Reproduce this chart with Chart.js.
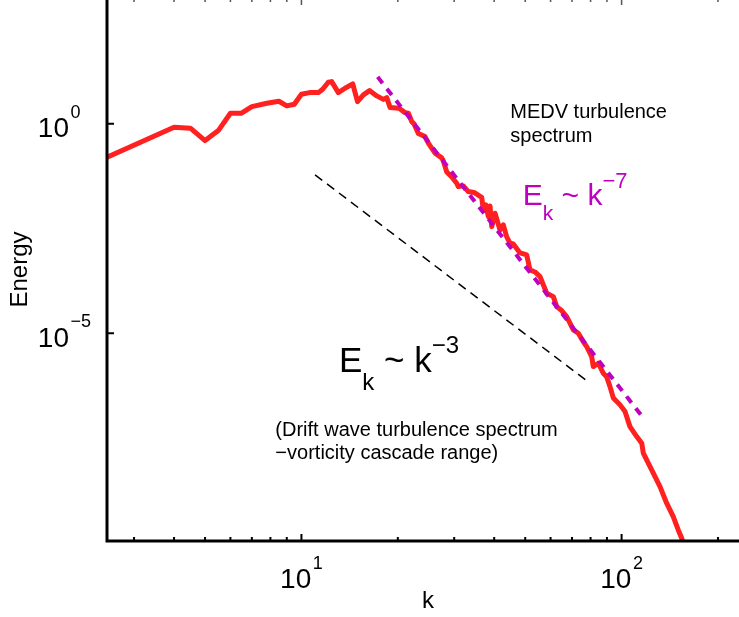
<!DOCTYPE html>
<html><head><meta charset="utf-8">
<script src="https://cdn.jsdelivr.net/npm/chart.js@4.4.1/dist/chart.umd.min.js"></script>
<style>
html,body{margin:0;padding:0;background:#fff;overflow:hidden;width:739px;height:617px;}
#wrap{position:absolute;left:0;top:-30px;width:780px;height:647px;}
</style></head><body>
<div id="wrap"><canvas id="c"></canvas></div>
<script>
// ---- data ----
const waveNumber = [2, 4, 4.5, 5, 5.5, 6, 6.5, 7, 7.8, 8.5, 9, 9.5, 10, 10.6, 11.3, 11.65, 12.13, 12.43, 13.04, 13.68,
  14.46, 14.97, 15.61, 16.32, 17.19, 18.03, 18.47, 18.91, 20.18, 21.07, 21.58, 22.11, 22.48, 23.18, 24.32, 24.91, 26.14, 27.43, 27.75, 28.44,
  29.48, 30.55, 30.9, 32.04, 33.2, 34.6, 36.57, 36.99, 37.71, 38.35, 38.82, 39.3, 40.24, 41.71, 42.71, 43.77, 44.83, 45.9, 48.16, 49.39,
  50.54, 51.75, 53.64, 55.62, 58.36, 61.2, 62.7, 64.67, 67.38, 70.67, 73.25, 75.93, 77.8, 80.65, 81.58, 84.56, 87.65, 89.84, 92.0, 94.2,
  98.9, 102.5, 106.2, 111.5, 115.6, 116.9, 122.7, 127.2, 131.8, 138.3, 145.0, 150.3, 154.1, 158.9];
const energy = [0.0764, 0.825, 0.781, 0.395, 0.684, 1.78, 1.78, 2.56, 3.08, 3.44, 2.66, 2.92, 5.06, 5.52, 5.52, 6.66, 9.78, 10.1, 5.52, 7.03,
  8.91, 3.37, 4.87, 6.17, 4.61, 3.80, 4.20, 2.45, 2.34, 1.84, 1.78, 1.12, 0.989, 0.587, 0.492, 0.343, 0.198, 0.153, 0.1295, 0.0707,
  0.0537, 0.0380, 0.0315, 0.0328, 0.0240, 0.0229, 0.0174, 0.00877, 0.01153, 0.00607, 0.01092, 0.0035, 0.00731, 0.00292, 0.00384, 0.00199, 0.00141, 0.00135, 8.25e-4, 7.81e-4,
  7.39e-4, 3.24e-4, 2.90e-4, 2.24e-4, 9.01e-5, 7.48e-5, 4.31e-5, 3.60e-5, 2.49e-5, 1.20e-5, 1.0e-5, 6.3e-6, 4.79e-6, 2.76e-6, 1.60e-6, 1.92e-6, 1.11e-6, 9.06e-7, 5.32e-7, 2.86e-7,
  1.95e-7, 1.35e-7, 5.90e-8, 3.41e-8, 2.37e-8, 1.37e-8, 6.55e-9, 3.78e-9, 2.18e-9, 8.77e-10, 4.20e-10, 2.02e-10, 1.28e-10, 6.0e-11];
const fit7K = [17.3, 115];
const fit7E = [13.1, 1.12e-7];
const fit3K = [11.03, 78.5];
const fit3E = [0.060, 7.0e-7];
const xMajorTicks = [10, 100];
const xMajorExponents = ['1', '2'];
const xMinorTicks = [3, 4, 5, 6, 7, 8, 9, 20, 30, 40, 50, 60, 70, 80, 90, 200];
const yMajorTicks = [1e-10, 1e-5, 1];
const yMajorExponents = ['\u221210', '\u22125', '0'];
const xTitle = 'k';
const yTitle = 'Energy';

const FONT = '"Liberation Sans", Arial, Helvetica, sans-serif';
const fnt = s => s + 'px ' + FONT;
function drawRich(ctx, x, y, parts) {
  let cx = x;
  for (const p of parts) {
    ctx.font = fnt(p.size);
    ctx.fillText(p.t, cx, y + (p.dy || 0));
    cx += ctx.measureText(p.t).width + (p.gap || 0);
  }
  return cx;
}
function richWidth(ctx, parts) {
  let w = 0;
  for (const p of parts) { ctx.font = fnt(p.size); w += ctx.measureText(p.t).width + (p.gap || 0); }
  return w;
}

const axesPlugin = {
  id: 'axesPlugin',
  afterDatasetsDraw(chart) {
    const { ctx, chartArea: a, scales: { x, y } } = chart;
    ctx.save();
    ctx.strokeStyle = '#000';
    ctx.fillStyle = '#000';
    ctx.textAlign = 'left';
    ctx.textBaseline = 'alphabetic';
    // ticks (inward) on bottom / left
    ctx.lineWidth = 2;
    ctx.beginPath();
    for (const v of xMajorTicks) {
      const px = x.getPixelForValue(v);
      ctx.moveTo(px, a.bottom); ctx.lineTo(px, a.bottom - 7);
    }
    for (const v of xMinorTicks) {
      const px = x.getPixelForValue(v);
      ctx.moveTo(px, a.bottom); ctx.lineTo(px, a.bottom - 4);
    }
    for (const v of yMajorTicks) {
      if (v < y.min || v > y.max) continue;
      const py = y.getPixelForValue(v);
      ctx.moveTo(a.left, py); ctx.lineTo(a.left + 7, py);
      ctx.moveTo(a.right, py); ctx.lineTo(a.right - 7, py);
    }
    ctx.stroke();
    // top ticks (mostly cropped in the reference)
    ctx.lineWidth = 1.5;
    ctx.strokeStyle = '#555';
    ctx.beginPath();
    for (const v of xMajorTicks) {
      const px = x.getPixelForValue(v);
      ctx.moveTo(px, a.top); ctx.lineTo(px, a.top + 7);
    }
    for (const v of xMinorTicks) {
      const px = x.getPixelForValue(v);
      ctx.moveTo(px, a.top); ctx.lineTo(px, a.top + 4);
    }
    ctx.stroke();
    ctx.strokeStyle = '#000';
    // axis box
    ctx.lineWidth = 3;
    ctx.strokeRect(a.left, a.top, a.right - a.left, a.bottom - a.top);

    // x tick labels
    xMajorTicks.forEach((v, i) => {
      const px = x.getPixelForValue(v);
      const parts = [{ t: '10', size: 28, gap: 1.5 }, { t: xMajorExponents[i], size: 18, dy: -19 }];
      const w = richWidth(ctx, parts);
      drawRich(ctx, px - w / 2, a.bottom + 46.6, parts);
    });
    // y tick labels
    yMajorTicks.forEach((v, i) => {
      if (v < y.min || v > y.max) return;
      const py = y.getPixelForValue(v);
      ctx.font = fnt(28);
      const w10 = ctx.measureText('10').width;
      drawRich(ctx, a.left - 38 - w10, py + 13.5, [{ t: '10', size: 28, gap: 1.5 }, { t: yMajorExponents[i], size: 18, dy: -19.5 }]);
    });
    // axis titles
    ctx.font = fnt(24);
    ctx.textAlign = 'center';
    ctx.fillText(xTitle, (a.left + a.right) / 2, a.bottom + 67);
    ctx.save();
    ctx.translate(26.7, (a.top + a.bottom) / 2);
    ctx.rotate(-Math.PI / 2);
    ctx.fillText(yTitle, 0, 0);
    ctx.restore();
    ctx.textAlign = 'left';

    // annotations anchored in data coordinates
    const X = k => x.getPixelForValue(k), Y = e => y.getPixelForValue(e);
    ctx.font = fnt(20);
    ctx.fillStyle = '#000';
    ctx.fillText('MEDV turbulence', X(44.9), Y(1.35));
    ctx.fillText('spectrum', X(44.9), Y(1.35) + 23.4);

    ctx.fillStyle = '#bf00bf';
    drawRich(ctx, X(49.1), Y(0.01153), [
      { t: 'E', size: 30 }, { t: 'k', size: 21, dy: 15 }, { t: ' ~ ', size: 30 }, { t: 'k', size: 30 }, { t: '\u22127', size: 22, dy: -17 }
    ]);

    ctx.fillStyle = '#000';
    drawRich(ctx, X(13.1), Y(1.21e-6), [
      { t: 'E', size: 35 }, { t: 'k', size: 24, dy: 18.3 }, { t: ' ~ ', size: 35 }, { t: 'k', size: 35 }, { t: '\u22123', size: 24, dy: -18.4 }
    ]);

    ctx.font = fnt(20);
    ctx.fillText('(Drift wave turbulence spectrum', X(8.29), Y(3.54e-8));
    ctx.fillText('\u2212vorticity cascade range)', X(8.29), Y(3.54e-8) + 23);
    ctx.restore();
  }
};

new Chart(document.getElementById('c'), {
  type: 'line',
  data: {
    datasets: [
      { label: 'k^-7 fit', data: fit7K.map((k, i) => ({ x: k, y: fit7E[i] })), borderColor: '#bf00bf', borderWidth: 4,
        borderDash: [8, 7], pointRadius: 0, fill: false, order: 0, clip: 0 },
      { label: 'spectrum', data: waveNumber.map((k, i) => ({ x: k, y: energy[i] })), borderColor: '#ff2020', borderWidth: 5,
        borderJoinStyle: 'round', borderCapStyle: 'round', pointRadius: 0, fill: false, tension: 0, order: 1, clip: 0 },
      { label: 'k^-3 fit', data: fit3K.map((k, i) => ({ x: k, y: fit3E[i] })), borderColor: '#000', borderWidth: 1.5,
        borderDash: [9, 6], pointRadius: 0, fill: false, order: 2, clip: 0 }
    ]
  },
  options: {
    responsive: true, maintainAspectRatio: false, animation: false, events: [],
    layout: { padding: { left: 107, right: 31, top: 28, bottom: 76 } },
    scales: {
      x: { type: 'logarithmic', min: 2.47, max: 250, display: false },
      y: { type: 'logarithmic', min: 1.1e-10, max: 1000, display: false }
    },
    plugins: { legend: { display: false }, tooltip: { enabled: false } }
  },
  plugins: [axesPlugin]
});
</script>
</body></html>
